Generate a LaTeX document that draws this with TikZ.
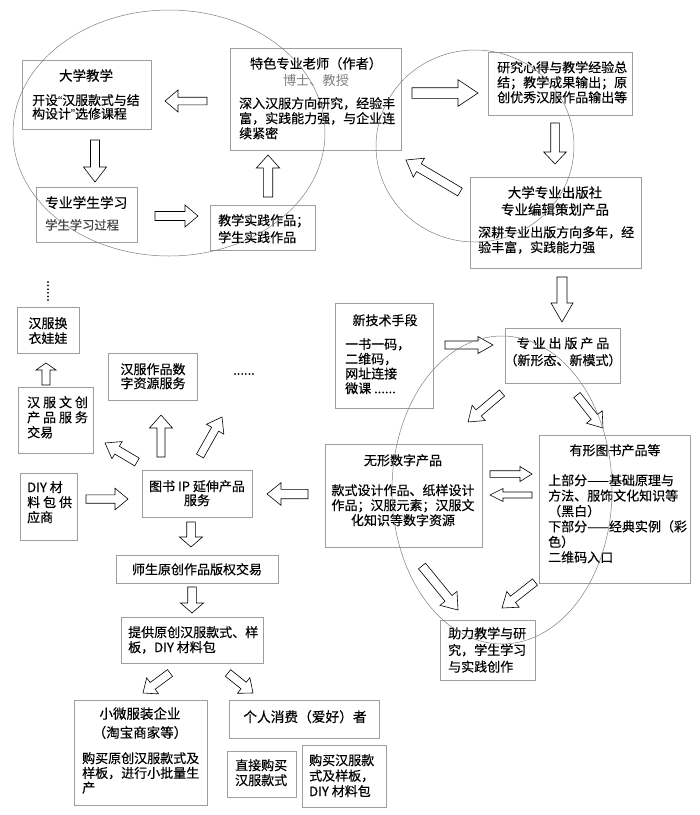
\documentclass[tikz,border=0pt]{standalone}
\usepackage{fontspec}
\setmainfont{Noto Sans CJK SC}[FakeBold=0.35]
\newfontfamily\thinf{Noto Sans CJK SC}
\newfontfamily\qf{Liberation Sans}
\usetikzlibrary{calc}
\definecolor{boxgray}{gray}{0.62}
\definecolor{ellgray}{gray}{0.5}
\tikzset{
 box/.style={draw=boxgray, line width=0.7pt, inner sep=0pt, anchor=north west},
 txt/.style={inner sep=0pt, font=\fontsize{13}{15}\selectfont, align=left, anchor=north west},
 ctxt/.style={inner sep=0pt, font=\fontsize{13}{15}\selectfont, align=center, anchor=north},
 blk/.style={draw=black, line width=0.6pt, line join=miter},
 ell/.style={draw=ellgray, line width=0.5pt},
}
\newcommand\boxat[5]{\node[box, minimum width=#4pt, minimum height=#5pt] (#1) at (#2,#3) {};}
% block arrow: from, to, shaft half width, head half width, head length
\newcommand\blockarrow[5]{%
  \coordinate (hbase) at ($(#2)!#5!(#1)$);
  \draw[blk] ($(#1)!#3!90:(#2)$) -- ($(hbase)!#3!90:(#2)$) -- ($(hbase)!#4!90:(#2)$) -- (#2)
     -- ($(hbase)!#4!-90:(#2)$) -- ($(hbase)!#3!-90:(#2)$) -- ($(#1)!#3!-90:(#2)$) -- cycle;
}
\begin{document}
\begin{tikzpicture}[x=1pt,y=-1pt]
\useasboundingbox (0,0) rectangle (700,815);
\fill[white] (0,0) rectangle (700,815);

% ---------- boxes ----------
\boxat{dxjx}{22}{60}{129}{69}
\boxat{ts}{230}{48}{171}{102}
\boxat{zyxs}{36}{187}{101}{55}
\boxat{jxsj}{210}{205}{105}{45}
\boxat{yj}{488}{52}{144}{63}
\boxat{cbs}{470}{177}{171}{91}
\boxat{xjs}{335}{303}{98}{105}
\boxat{zycb}{505}{328}{115}{55}
\boxat{wx}{325}{444}{157}{103}
\boxat{yx}{539}{435}{151}{148}
\boxat{zl}{440}{620}{95}{60}
\boxat{hy}{17}{307}{62}{46}
\boxat{wc}{18}{387}{75}{66}
\boxat{zp}{108}{353}{89}{47}
\boxat{diy}{20}{473}{57}{67}
\boxat{ip}{142}{470}{110}{47}
\boxat{ss}{116}{555}{162}{28}
\boxat{tg}{121}{617}{142}{46}
\boxat{xw}{74}{700}{133}{105}
\boxat{gr}{229}{700}{150}{38}
\boxat{zj}{227}{751}{69}{46}
\boxat{gm}{302}{745}{84}{62}

% ---------- texts ----------
\node[ctxt, font=\fontsize{13.5}{15}\selectfont] (tdx1) at (86,69) {大学教学};
\node[txt, font=\fontsize{12.9}{13.5}\selectfont] (tdx2) at (32,94) {开设{\qf “}汉服款式与结\\构设计{\qf ”}选修课程};
\node[ctxt, font=\fontsize{13.2}{15}\selectfont] (tts1) at (316,57) {特色专业老师（作者）};
\node[ctxt, font=\thinf\fontsize{13.2}{15}\selectfont, text=black!50] (tts2) at (316,74) {博士、教授};
\node[txt] (tts3) at (239,97) {深入汉服方向研究，经验丰\\富，实践能力强，与企业连\\续紧密};
\node[txt, font=\fontsize{13.7}{15}\selectfont] (tzy1) at (45,196) {专业学生学习};
\node[txt, font=\fontsize{12.3}{15}\selectfont, text=black!75] (tzy2) at (45,219) {学生学习过程};
\node[txt, font=\fontsize{13}{17}\selectfont] (tjx) at (218,214) {教学实践作品；\\学生实践作品};
\node[txt] (tyj) at (497,61) {研究心得与教学经验总\\结；教学成果输出；原\\创优秀汉服作品输出等};
\node[ctxt, font=\fontsize{13.5}{17}\selectfont] (tcb1) at (555,186) {大学专业出版社\\专业编辑策划产品};
\node[txt] (tcb2) at (478,226) {深耕专业出版方向多年，经\\验丰富，实践能力强};
\node[ctxt] (txj1) at (385,314) {新技术手段};
\node[txt, font=\fontsize{13}{14.7}\selectfont] (txj2) at (345,338) {一书一码，\\二维码，\\网址连接\\微课 ......};
\node[ctxt, font=\fontsize{13}{17}\selectfont] (tzc) at (563,337) {专 业 出 版 产 品\\（新形态、新模式）};
\node[ctxt] (twx1) at (403,454) {无形数字产品};
\node[ctxt] (twx2) at (403,484) {款式设计作品、纸样设计\\作品；汉服元素；汉服文\\化知识等数字资源};
\node[ctxt] (tyx1) at (615,444) {有形图书产品等};
\node[txt, font=\fontsize{13}{15.4}\selectfont] (tyx2) at (548,474) {上部分——基础原理与\\方法、服饰文化知识等\\（黑白）\\下部分——经典实例（彩\\色）\\二维码入口};
\node[txt, font=\fontsize{13}{16.7}\selectfont] (tzl) at (448,627) {助力教学与研\\究，学生学习\\与实践创作};
\node[ctxt] (thy) at (48,317) {汉服换\\衣娃娃};
\node[txt] (twc) at (27,396) {汉 服 文 创\\产 品 服 务\\交易};
\node[ctxt, font=\fontsize{13}{14}\selectfont] (tzp) at (153,363) {汉服作品数\\字资源服务};
\node[txt] (tdiy) at (27,481) {DIY 材\\料 包 供\\应商};
\node[ctxt, font=\fontsize{13}{14}\selectfont] (tip) at (197,480) {图书 IP 延伸产品\\服务};
\node[ctxt] (tss) at (197,563) {师生原创作品版权交易};
\node[txt] (ttg) at (128,626) {提供原创汉服款式、样\\板，DIY 材料包};
\node[ctxt, font=\fontsize{13.5}{19}\selectfont] (txw1) at (140,707) {小微服装企业\\（淘宝商家等）};
\node[txt, font=\fontsize{13}{14.7}\selectfont] (txw2) at (82,752) {购买原创汉服款式及\\样板，进行小批量生\\产};
\node[ctxt, font=\fontsize{13.7}{15}\selectfont] (tgr) at (305,710) {个人消费（爱好）者};
\node[txt] (tzj) at (235,759) {直接购买\\汉服款式};
\node[txt, font=\fontsize{13}{15.5}\selectfont] (tgm) at (309,754) {购买汉服款\\式及样板，\\DIY 材料包};
\node[ctxt, rotate=90, anchor=center] (dotv) at (48,291) {......};
\node[ctxt, anchor=center] (doth) at (244,374) {......};

% ---------- block arrows ----------
\coordinate (a1s) at (207,101); \coordinate (a1e) at (165,101);
\blockarrow{a1s}{a1e}{3.8pt}{11pt}{13pt}
\coordinate (a2s) at (95,140); \coordinate (a2e) at (95,182);
\blockarrow{a2s}{a2e}{4.5pt}{11.5pt}{15pt}
\coordinate (a3s) at (155,216); \coordinate (a3e) at (198,216);
\blockarrow{a3s}{a3e}{4.5pt}{11pt}{13pt}
\coordinate (a4s) at (268,197); \coordinate (a4e) at (268,155);
\blockarrow{a4s}{a4e}{4.7pt}{11.7pt}{13pt}
\coordinate (a5s) at (412,93); \coordinate (a5e) at (478,93);
\blockarrow{a5s}{a5e}{5.3pt}{13.3pt}{20pt}
\coordinate (a6s) at (555,123); \coordinate (a6e) at (555,164);
\blockarrow{a6s}{a6e}{4.3pt}{11.3pt}{12pt}
\coordinate (a7s) at (460,192); \coordinate (a7e) at (406,160);
\blockarrow{a7s}{a7e}{4.5pt}{11pt}{15pt}
\coordinate (a8s) at (562,277); \coordinate (a8e) at (562,322);
\blockarrow{a8s}{a8e}{5pt}{11pt}{19pt}
\coordinate (a9s) at (445,345); \coordinate (a9e) at (493,345);
\blockarrow{a9s}{a9e}{4pt}{8.5pt}{15pt}
\coordinate (a10s) at (502,393); \coordinate (a10e) at (468,422);
\blockarrow{a10s}{a10e}{4pt}{10pt}{14pt}
\coordinate (a11s) at (577,395); \coordinate (a11e) at (603,428);
\blockarrow{a11s}{a11e}{4pt}{10pt}{14pt}
\coordinate (a12s) at (490,474); \coordinate (a12e) at (532,474);
\blockarrow{a12s}{a12e}{3.3pt}{7.5pt}{12pt}
\coordinate (a13s) at (532,495); \coordinate (a13e) at (490,495);
\blockarrow{a13s}{a13e}{3pt}{6.5pt}{13pt}
\coordinate (a14s) at (422,566); \coordinate (a14e) at (458,610);
\blockarrow{a14s}{a14e}{4.5pt}{11pt}{15pt}
\coordinate (a15s) at (535,582); \coordinate (a15e) at (502,608);
\blockarrow{a15s}{a15e}{4pt}{10pt}{14pt}
\coordinate (a16s) at (308,494); \coordinate (a16e) at (267,494);
\blockarrow{a16s}{a16e}{4.7pt}{11.3pt}{14pt}
\coordinate (a17s) at (137,462); \coordinate (a17e) at (105,443);
\blockarrow{a17s}{a17e}{4.5pt}{10pt}{14pt}
\coordinate (a18s) at (161,457); \coordinate (a18e) at (161,415);
\blockarrow{a18s}{a18e}{4pt}{11.5pt}{13pt}
\coordinate (a19s) at (200,456); \coordinate (a19e) at (222,417);
\blockarrow{a19s}{a19e}{4pt}{10pt}{14pt}
\coordinate (a20s) at (46,385); \coordinate (a20e) at (46,363);
\blockarrow{a20s}{a20e}{4pt}{10pt}{7pt}
\coordinate (a21s) at (86,499); \coordinate (a21e) at (128,499);
\blockarrow{a21s}{a21e}{4.2pt}{10.8pt}{13pt}
\coordinate (a22s) at (191,522); \coordinate (a22e) at (191,547);
\blockarrow{a22s}{a22e}{4.3pt}{11.5pt}{10pt}
\coordinate (a23s) at (192,587); \coordinate (a23e) at (192,613);
\blockarrow{a23s}{a23e}{4.3pt}{11.5pt}{10pt}
\coordinate (a24s) at (170,673); \coordinate (a24e) at (143,693);
\blockarrow{a24s}{a24e}{4.2pt}{10pt}{12pt}
\coordinate (a25s) at (228,673); \coordinate (a25e) at (253,693);
\blockarrow{a25s}{a25e}{4.2pt}{10pt}{12pt}

% ---------- ellipses ----------
\draw[ell] (169,133) ellipse [x radius=156pt, y radius=123pt];
\draw[ell] (475,146) ellipse [x radius=99pt, y radius=96pt];
\draw[ell] (502,490) ellipse [x radius=110pt, y radius=154pt];
\end{tikzpicture}
\end{document}
